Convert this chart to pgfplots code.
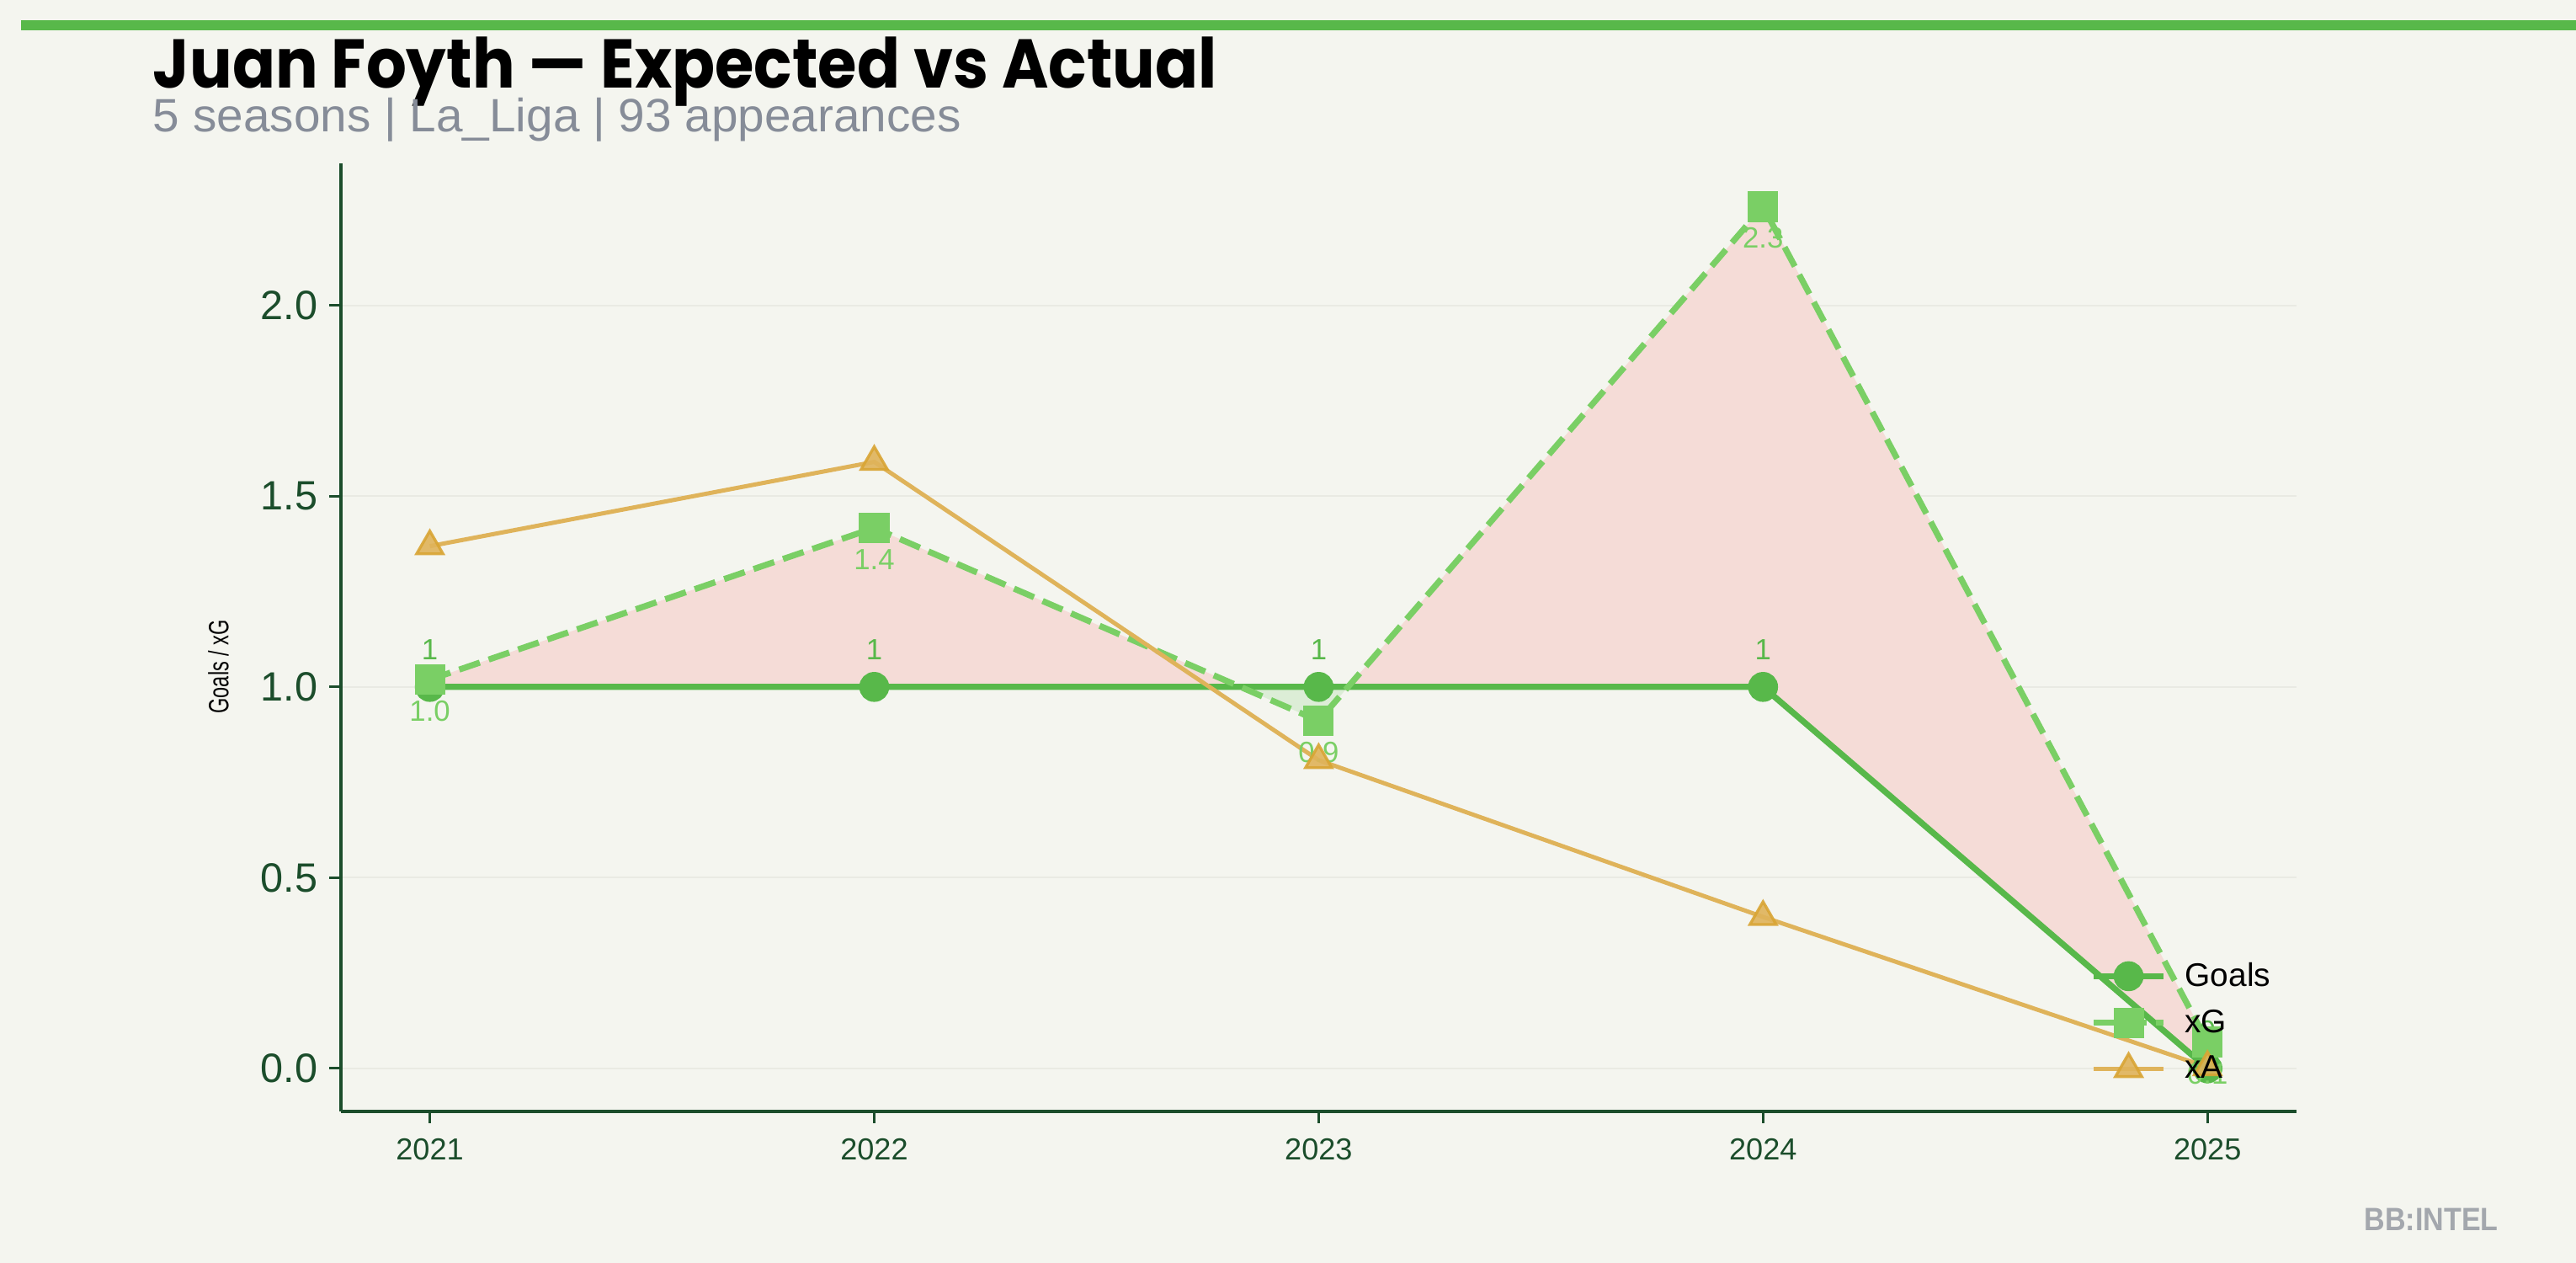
\documentclass[border=0pt]{standalone}
\usepackage{xcolor}
\usepackage{pgfplots}
\usepackage{pgfplotstable}
\pgfplotsset{compat=1.18}
\usepgfplotslibrary{fillbetween}
\usepackage{fontspec}
\setmainfont{Liberation Sans}
\newfontfamily\titlefont{Poppins}[UprightFont=* Bold]
\usepackage{graphicx}
\definecolor{bg}{HTML}{F4F5EF}
\definecolor{goalsc}{HTML}{58B84A}
\definecolor{xgc}{HTML}{7ACF65}
\definecolor{xac}{HTML}{DFB35A}
\definecolor{xaedge}{HTML}{D9A534}
\definecolor{pinkfill}{HTML}{F5DCD7}
\definecolor{greenfill}{HTML}{DCEDD6}
\definecolor{axisc}{HTML}{1B4D2B}
\definecolor{subc}{HTML}{868C98}
\definecolor{wmc}{HTML}{A3A7AD}
\definecolor{gridc}{HTML}{E9EAE3}
\pgfplotstableread{
season goals
2021 1
2022 1
2023 1
2024 1
2025 0
}\goalstab
\pgfplotstableread{
season xg
2021 1.019
2022 1.417
2023 0.911
2024 2.259
2025 0.069
}\xgtab
\pgfplotstableread{
season xa
2021 1.369
2022 1.590
2023 0.808
2024 0.397
2025 0.003
}\xatab
\begin{document}%
\pagecolor{bg}%
\begin{tikzpicture}
\path (0,0) rectangle (1101.6pt,540pt);
\fill[goalsc] (9pt,527pt) rectangle (1101.6pt,531.3pt);
\node[anchor=base west, inner sep=0pt] at (65.3pt,502.4pt) {\resizebox{455pt}{\height}{\titlefont\fontsize{29.5}{32}\selectfont Juan Foyth — Expected vs Actual}};
\node[anchor=base west, inner sep=0pt, text=subc] at (65.3pt,483.8pt) {\resizebox{345.6pt}{\height}{\fontsize{20}{24}\selectfont 5 seasons | La\_Liga | 93 appearances}};
\node[anchor=base west, inner sep=0pt, text=wmc] at (1010.9pt,13.8pt) {\resizebox{57.2pt}{\height}{\fontsize{13.8}{16}\selectfont\bfseries BB:INTEL}};
\begin{axis}[
  at={(145.8pt,64.8pt)}, anchor=south west,
  scale only axis, width=836.2pt, height=405.4pt,
  xmin=2020.8, xmax=2025.2, ymin=-0.113, ymax=2.373,
  axis x line*=bottom, axis y line*=left,
  axis line style={axisc, line width=1.2pt},
  xtick={2021,2022,2023,2024,2025},
  ytick={0,0.5,1,1.5,2},
  tick align=outside, tick style={axisc, line width=1.2pt},
  major tick length=5pt,
  xticklabel style={font=\fontsize{13}{15}\selectfont, text=axisc, /pgf/number format/1000 sep={}, yshift=-3pt},
  yticklabel style={font=\fontsize{17.5}{20}\selectfont, text=axisc, xshift=-1.5pt, /pgf/number format/.cd, fixed, fixed zerofill, precision=1},
  /pgf/number format/assume math mode=true,
  ymajorgrids, grid style={gridc, line width=0.6pt},
  ylabel={\resizebox{40pt}{\height}{\fontsize{12}{14}\selectfont Goals / xG}},
  ylabel style={at={(axis description cs:-0.0627,0.469)}, anchor=center},
  legend style={draw=none, fill=none, at={(0.993,0.094)}, anchor=east, font=\fontsize{14}{16}\selectfont, row sep=4.5pt, /tikz/every odd column/.append style={column sep=6pt}},
  legend cell align=left,
  legend image code/.code={\draw[mark repeat=2,mark phase=2] plot coordinates {(0pt,0pt) (14.8pt,0pt) (29.6pt,0pt)};},
]
\addplot[name path=goalsp, draw=none, forget plot] table[x=season, y=goals] {\goalstab};
\addplot[name path=xgp, draw=none, forget plot] table[x=season, y=xg] {\xgtab};
\addplot[forget plot, fill=pinkfill] fill between[of=xgp and goalsp, split,
  every segment no 1/.style={fill=greenfill}];
\addplot[goalsc, line width=2.6pt, mark=*, mark size=5.1pt, mark options={solid, fill=goalsc, draw=goalsc},
  nodes near coords={\pgfmathprintnumber[fixed,precision=0]{\pgfplotspointmeta}},
  every node near coord/.append style={text=goalsc, font=\fontsize{12.5}{14}\selectfont, anchor=center, yshift=16pt}]
  table[x=season, y=goals] {\goalstab};
\addlegendentry{Goals}
\addplot[xgc, line width=2.6pt, dash pattern=on 9.3pt off 4pt, mark=square*, mark size=5.2pt, mark options={solid, fill=xgc, draw=xgc},
  nodes near coords={\pgfmathprintnumber[fixed,fixed zerofill,precision=1]{\pgfplotspointmeta}},
  every node near coord/.append style={text=xgc, font=\fontsize{12.5}{14}\selectfont, anchor=center, yshift=-13.5pt}]
  table[x=season, y=xg] {\xgtab};
\addlegendentry{xG}
\addplot[xac, line width=1.8pt, mark=triangle*, mark size=6.5pt, mark options={solid, fill=xac, draw=xaedge, line width=1.2pt, opacity=0.9}]
  table[x=season, y=xa] {\xatab};
\addlegendentry{xA}
\end{axis}
\pgfresetboundingbox
\path (0,0) rectangle (1101.6pt,540pt);
\end{tikzpicture}%
\end{document}
